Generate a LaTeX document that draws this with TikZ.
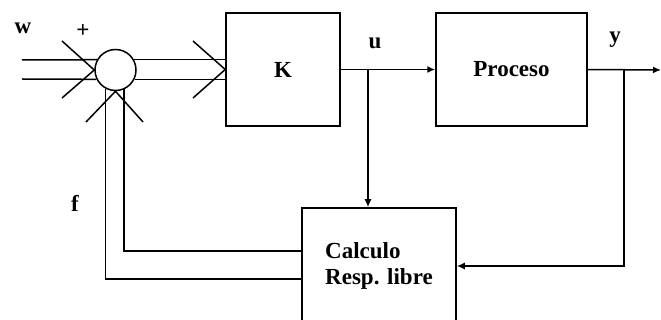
\documentclass[tikz,border=0pt]{standalone}
\usepackage{fontspec}
\setmainfont{Liberation Serif}
\usetikzlibrary{arrows.meta}

\begin{document}
\begin{tikzpicture}[x=1pt, y=-1pt, line width=1.5pt, font=\fontsize{23}{26}\selectfont\bfseries,
    block/.style={draw, rectangle, inner sep=0pt},
    tip/.style={-{Latex[length=8pt,width=7pt]}}]
    \useasboundingbox (0,0) rectangle (661,320);
    \node[draw, circle, minimum size=41pt, inner sep=0pt] (sum) at (115.5,70) {};
    \node[block, minimum width=114pt, minimum height=113pt] (K) at (283,69.5) {K};
    \node[block, minimum width=151pt, minimum height=113pt] (P) at (511.5,69.5) {Proceso};
    \node[block, minimum width=154pt, minimum height=116pt, align=left] (C) at (379,266) {Calculo\\Resp. libre};
    \coordinate (w1) at (22,60);
    \coordinate (w2) at (22,79);
    \coordinate (u) at (368,70);
    \coordinate (yb) at (624,70);
    \coordinate (out) at (661,70);
    \node at (23,28) {w};
    \node at (83,31) {+};
    \node at (375,43) {u};
    \node at (615,40) {y};
    \node at (75,203) {f};
        \draw (w1) -- (sum.151);
        \draw (w2) -- (sum.206);
        \draw (62,41) -- (sum.west) -- (62,98);
        \draw (sum.29) -- (sum.29 -| K.west);
        \draw (sum.-26) -- (sum.-26 -| K.west);
        \draw (193,41) -- (K.west) -- (193,98);
        \draw (sum.294) |- ([yshift=15pt]C.west);
        \draw (sum.242) |- ([yshift=-13pt]C.west);
        \draw (86,122) -- (sum.south) -- (143,122);
        \draw[tip] (K.east) -- (P.west);
        \draw[tip] (u) -- (u |- C.north);
        \draw[tip] (P.east) -- (out);
        \draw[tip] (yb) |- (C.east);
\end{tikzpicture}
\end{document}
